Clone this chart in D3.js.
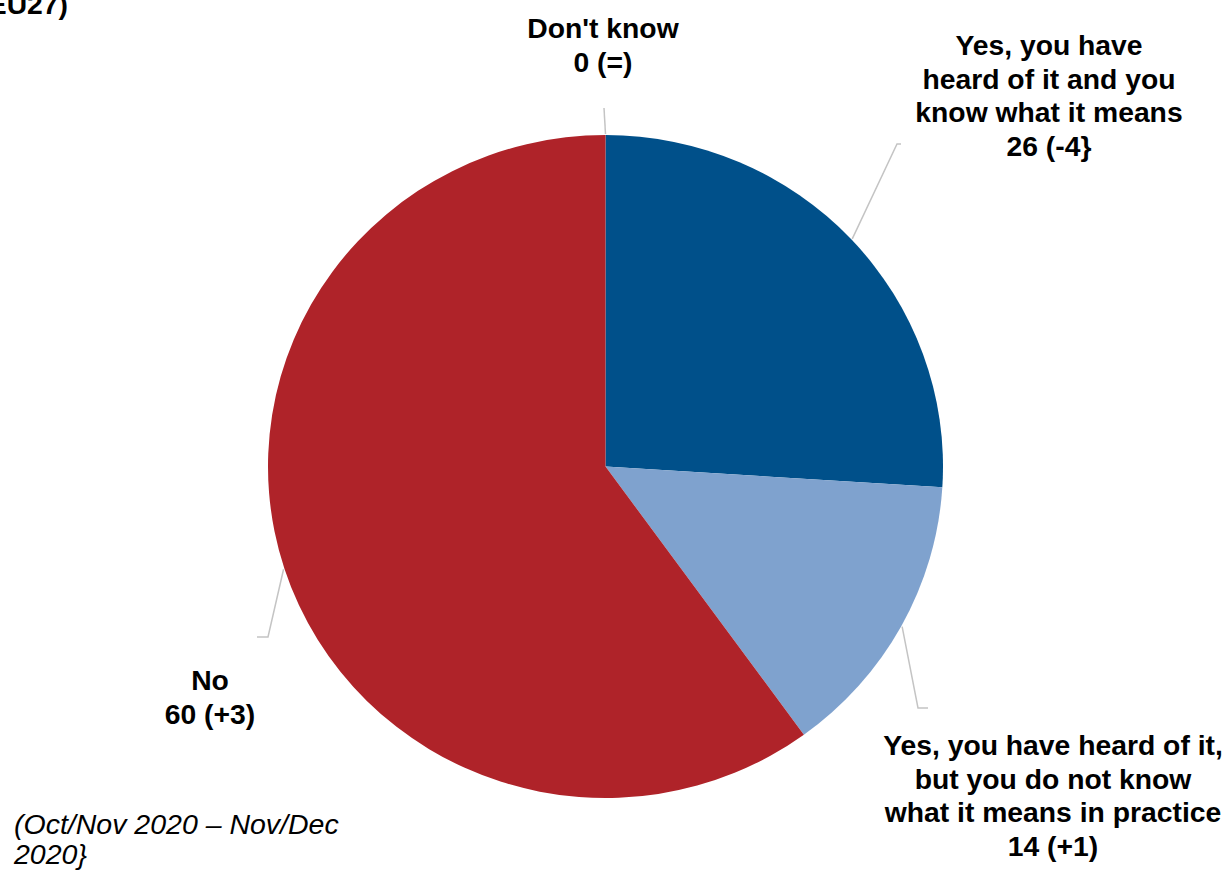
<!DOCTYPE html>
<html>
<head>
<meta charset="utf-8">
<script src="https://cdn.jsdelivr.net/npm/d3@7"></script>
<style>
  html, body { margin: 0; padding: 0; background: #ffffff; }
  svg { display: block; }
  text { font-family: "Liberation Sans", Arial, sans-serif; fill: #000; }
</style>
</head>
<body>
<svg id="chart" width="1226" height="871"></svg>
<script>
// Answer categories in pie order (clockwise from 12 o'clock)
const categories = [
  "Yes, you have heard of it and you know what it means",
  "Yes, you have heard of it, but you do not know what it means in practice",
  "No",
  "Don't know"
];
const values = [26, 14, 60, 0];
const changes = ["(-4}", "(+1)", "(+3)", "(=)"];
const labelLines = [
  ["Yes, you have", "heard of it and you", "know what it means"],
  ["Yes, you have heard of it,", "but you do not know", "what it means in practice"],
  ["No"],
  ["Don't know"]
];
const colors = ["#00508a", "#7fa2ce", "#af2329", "#9e9e9e"];

const width = 1226, height = 871;
const cx = 605.5, cy = 466.5;
const rx = 337.5, ry = 331.5;
const fontSize = 28.3, lineH = 33.6;

// Label block anchors (centre x, baseline of first line) and leader elbows
const labelPos = [
  { x: 1049, y: 55, elbow: [897, 144], end: [901, 144] },
  { x: 1053, y: 755, elbow: [918, 708], end: [928, 708] },
  { x: 210, y: 690, elbow: [268, 637], end: [257, 637] },
  { x: 603, y: 38, elbow: [604, 108], end: [604, 108] }
];

const svg = d3.select("#chart");

const pie = d3.pie().sort(null).value(d => d)(values);
const arc = d3.arc().innerRadius(0).outerRadius(ry);

// Pie is drawn on a circle then stretched slightly horizontally
const pieG = svg.append("g")
  .attr("transform", `translate(${cx},${cy}) scale(${rx / ry},1)`);

pieG.selectAll("path")
  .data(pie)
  .join("path")
  .attr("d", arc)
  .attr("fill", (d, i) => colors[i]);

// Point on the pie's rim at a slice's mid angle
function rim(d, extra) {
  const a = (d.startAngle + d.endAngle) / 2;
  return [cx + (rx + extra) * Math.sin(a), cy - (ry + extra) * Math.cos(a)];
}

// Leader lines
const leaders = svg.append("g")
  .attr("fill", "none")
  .attr("stroke", "#c4c4c4")
  .attr("stroke-width", 1.5);

pie.forEach((d, i) => {
  const p = labelPos[i];
  const start = rim(d, 1);
  leaders.append("path")
    .attr("d", d3.line()([start, p.elbow, p.end]));
});

// Slice labels
const labels = svg.append("g")
  .attr("font-size", fontSize)
  .attr("font-weight", "bold")
  .attr("text-anchor", "middle");

pie.forEach((d, i) => {
  const p = labelPos[i];
  const lines = labelLines[i].concat([`${values[i]} ${changes[i]}`]);
  const t = labels.append("text").attr("x", p.x).attr("y", p.y);
  lines.forEach((ln, k) => {
    t.append("tspan").attr("x", p.x).attr("y", p.y + k * lineH).text(ln);
  });
});

// Title tail at the top-left corner
svg.append("text")
  .attr("x", 68).attr("y", 14)
  .attr("text-anchor", "end")
  .attr("font-size", fontSize)
  .attr("font-weight", "bold")
  .text("(EU27)");

// Comparison-period note
const note = svg.append("text")
  .attr("font-size", 28.5)
  .attr("font-style", "italic");
note.append("tspan").attr("x", 14).attr("y", 834).text("(Oct/Nov 2020 – Nov/Dec");
note.append("tspan").attr("x", 14).attr("y", 864).text("2020}");
</script>
</body>
</html>
